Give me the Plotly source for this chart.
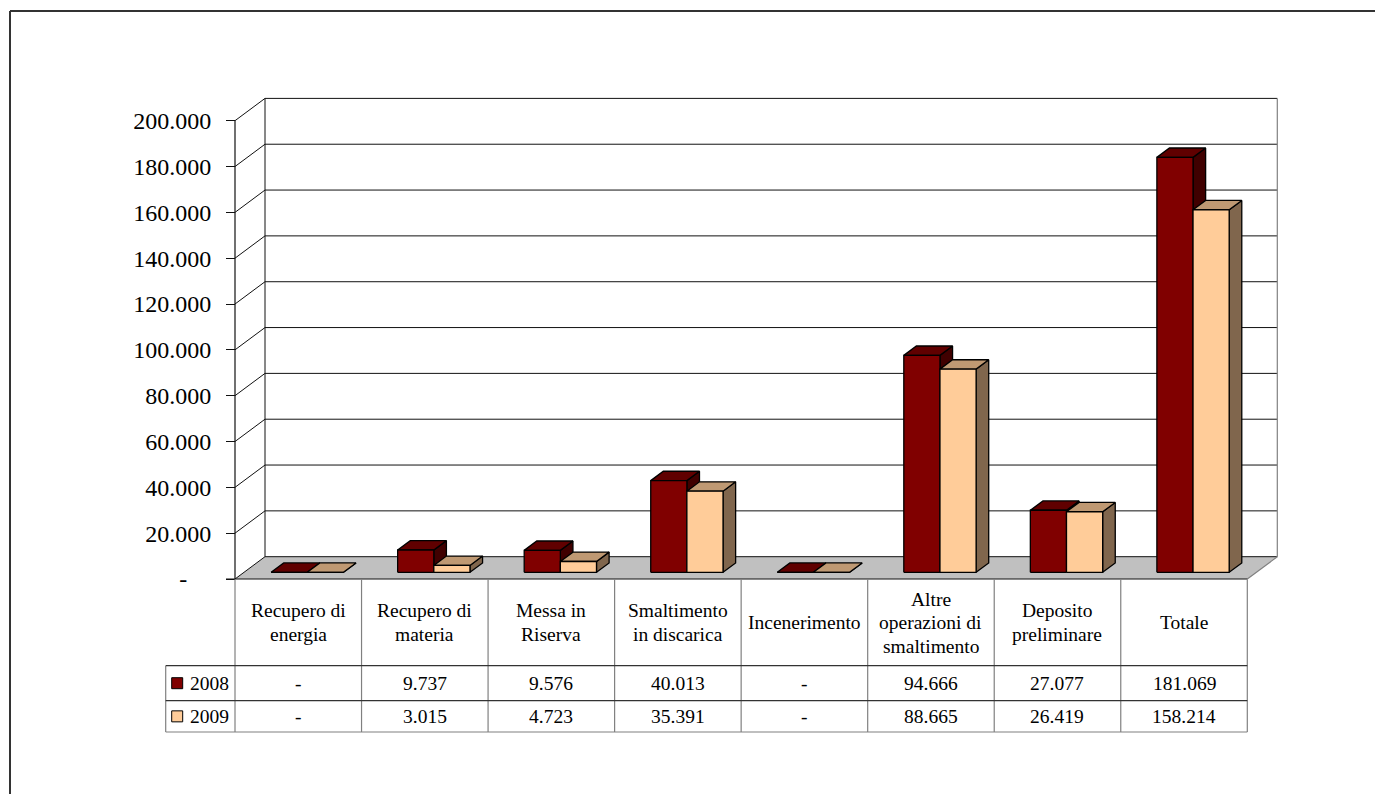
import plotly.graph_objects as go

# dati (tonnellate)
categorie = ["Recupero di\nenergia", "Recupero di\nmateria", "Messa in\nRiserva",
             "Smaltimento\nin discarica", "Incenerimento",
             "Altre\noperazioni di\nsmaltimento", "Deposito\npreliminare", "Totale"]
anni = ["2008", "2009"]
valori_2008 = [0, 9737, 9576, 40013, 0, 94666, 27077, 181069]
valori_2009 = [0, 3015, 4723, 35391, 0, 88665, 26419, 158214]
tick_vals = [0, 20000, 40000, 60000, 80000, 100000, 120000, 140000, 160000, 180000, 200000]
tick_text = ["-\u00a0\u00a0\u00a0\u00a0", "20.000", "40.000", "60.000", "80.000", "100.000",
             "120.000", "140.000", "160.000", "180.000", "200.000"]

# colori: fronte, sopra, lato
colori = {
    "2008": ("#800000", "#600000", "#400000"),
    "2009": ("#FFCC99", "#BF9973", "#80664D"),
}

OFF = 0                      # margine pagina azzerato con post_script
W, H = 1375, 794
X0, Y0 = 235, 579            # spigolo anteriore sinistro del pavimento (px)
CW = (1247.3 - X0) / 8       # px per categoria
S = (579 - 120.7) / 200000   # px per tonnellata
DX = 30 / CW                 # profondita in unita categoria
DY = 22.3 / S                # profondita in unita valore
D0, D1 = 0.30, 0.72          # profondita barre (frazione)
GAP = 1.5
BW = 1 / (2 + GAP)
FONT = "Liberation Serif, Times New Roman, Times, serif"


def px_x(px):
    return (px - X0) / CW


def px_y(py):
    return (Y0 - py) / S


def pap_x(px):
    return (px - OFF) / W


def pap_y(py):
    return 1 - (py - OFF) / H


def fmt(v):
    return "-" if v == 0 else f"{v:,}".replace(",", ".")


fig = go.Figure()

# barre 3D: lato, sopra, fronte per ogni serie
for j, (anno, vals) in enumerate(zip(anni, [valori_2008, valori_2009])):
    fronte, sopra, lato = colori[anno]
    fx, fy, tx, ty, sx, sy = [], [], [], [], [], []
    ox0, oy0, ox1, oy1 = D0 * DX, D0 * DY, D1 * DX, D1 * DY
    for i, v in enumerate(vals):
        xa = i + 0.5 - BW + j * BW
        xb = xa + BW
        fx += [xa + ox0, xb + ox0, xb + ox0, xa + ox0, xa + ox0, None]
        fy += [oy0, oy0, v + oy0, v + oy0, oy0, None]
        tx += [xa + ox0, xb + ox0, xb + ox1, xa + ox1, xa + ox0, None]
        ty += [v + oy0, v + oy0, v + oy1, v + oy1, v + oy0, None]
        sx += [xb + ox0, xb + ox1, xb + ox1, xb + ox0, xb + ox0, None]
        sy += [oy0, oy1, v + oy1, v + oy0, oy0, None]
    for xs, ys, col in [(sx, sy, lato), (tx, ty, sopra), (fx, fy, fronte)]:
        fig.add_trace(go.Scatter(x=xs, y=ys, mode="lines", fill="toself", fillcolor=col,
                                 line=dict(color="black", width=1.3), hoverinfo="skip",
                                 showlegend=False))

shapes = []
# pavimento
shapes.append(dict(type="path", xref="x", yref="y", layer="below",
                   path=f"M0,0 L8,0 L{8 + DX},{DY} L{DX},{DY} Z",
                   fillcolor="#C0C0C0", line=dict(width=0)))
# griglia parete di fondo e parete laterale
for v in tick_vals:
    shapes.append(dict(type="line", xref="x", yref="y", layer="below",
                       x0=DX, x1=8 + DX, y0=v + DY, y1=v + DY, line=dict(color="#111", width=1)))
    shapes.append(dict(type="line", xref="x", yref="y", layer="below",
                       x0=0, x1=DX, y0=v, y1=v + DY, line=dict(color="#111", width=1)))
shapes.append(dict(type="line", xref="x", yref="y", layer="below", x0=0, x1=0, y0=0,
                   y1=200000, line=dict(color="#111", width=1.2)))
shapes.append(dict(type="line", xref="x", yref="y", layer="below", x0=DX, x1=DX, y0=DY,
                   y1=200000 + DY, line=dict(color="#111", width=1)))
shapes.append(dict(type="line", xref="x", yref="y", layer="below", x0=8 + DX, x1=8 + DX, y0=DY,
                   y1=200000 + DY, line=dict(color="#808080", width=1.2)))
shapes.append(dict(type="line", xref="x", yref="y", layer="below", x0=8, x1=8 + DX, y0=0,
                   y1=DY, line=dict(color="#808080", width=1.2)))
shapes.append(dict(type="line", xref="x", yref="y", layer="below", x0=px_x(226), x1=8, y0=0,
                   y1=0, line=dict(color="#111", width=1.2)))

# tabella dati
T_TOP, T_HEAD, T_MID, T_BOT = 579.3, 665.7, 700.7, 732.0
T_LEFT = 165.7
for k in range(9):
    xk = X0 + k * CW
    shapes.append(dict(type="line", xref="paper", yref="paper", x0=pap_x(xk), x1=pap_x(xk),
                       y0=pap_y(T_TOP), y1=pap_y(T_BOT), line=dict(color="#808080", width=1.2)))
shapes.append(dict(type="line", xref="paper", yref="paper", x0=pap_x(T_LEFT), x1=pap_x(T_LEFT),
                   y0=pap_y(T_HEAD), y1=pap_y(T_BOT), line=dict(color="#808080", width=1.2)))
for yy, col in [(T_HEAD, "#333"), (T_MID, "#333"), (T_BOT, "#808080")]:
    shapes.append(dict(type="line", xref="paper", yref="paper", x0=pap_x(T_LEFT),
                       x1=pap_x(X0 + 8 * CW), y0=pap_y(yy), y1=pap_y(yy),
                       line=dict(color=col, width=1.2)))

# cornice esterna (solo lati superiore e sinistro visibili)
shapes.append(dict(type="line", xref="paper", yref="paper", x0=pap_x(10), x1=1,
                   y0=pap_y(11), y1=pap_y(11), line=dict(color="#333", width=2)))
shapes.append(dict(type="line", xref="paper", yref="paper", x0=pap_x(10), x1=pap_x(10),
                   y0=pap_y(11), y1=0, line=dict(color="#333", width=2)))

annotations = []
HEAD_C = (T_TOP + T_HEAD) / 2
LINE_H = 23.5
for i, cat in enumerate(categorie):
    righe = cat.split("\n")
    cx = X0 + (i + 0.5) * CW
    for k, r in enumerate(righe):
        yy = HEAD_C + (k - (len(righe) - 1) / 2) * LINE_H
        annotations.append(dict(x=pap_x(cx), y=pap_y(yy), xref="paper", yref="paper", text=r,
                                showarrow=False, xanchor="center", yanchor="middle",
                                font=dict(family=FONT, size=19.5, color="black")))

righe_y = [(T_HEAD + T_MID) / 2, (T_MID + T_BOT) / 2]
for anno, vals, yy in zip(anni, [valori_2008, valori_2009], righe_y):
    for i, v in enumerate(vals):
        cx = X0 + (i + 0.5) * CW
        annotations.append(dict(x=pap_x(cx), y=pap_y(yy), xref="paper", yref="paper",
                                text=fmt(v), showarrow=False, xanchor="center", yanchor="middle",
                                font=dict(family=FONT, size=19.5, color="black")))
    annotations.append(dict(x=pap_x(187.5), y=pap_y(yy), xref="paper", yref="paper", text=anno,
                            showarrow=False, xanchor="left", yanchor="middle",
                            font=dict(family=FONT, size=19.5, color="black")))
    shapes.append(dict(type="rect", xref="paper", yref="paper", x0=pap_x(171.7), x1=pap_x(182.7),
                       y0=pap_y(yy - 5.5), y1=pap_y(yy + 5.5), fillcolor=colori[anno][0],
                       line=dict(color="black", width=1)))

fig.update_layout(
    width=W, height=H,
    margin=dict(l=0, r=0, t=0, b=0),
    paper_bgcolor="white", plot_bgcolor="white",
    showlegend=False,
    xaxis=dict(range=[px_x(OFF), px_x(OFF + W)], visible=False, fixedrange=True),
    yaxis=dict(range=[px_y(OFF + H), px_y(OFF)], anchor="free", position=pap_x(X0),
               tickmode="array", tickvals=tick_vals, ticktext=tick_text,
               ticks="outside", ticklen=9, tickcolor="#111", tickwidth=1.2,
               ticklabelstandoff=10,
               showgrid=False, zeroline=False, showline=False, fixedrange=True,
               tickfont=dict(family=FONT, size=24, color="black")),
    shapes=shapes,
    annotations=annotations,
)

fig.write_html("out.html", config={"displayModeBar": False},
               post_script="document.body.style.margin='0';document.body.style.overflow='hidden';")
